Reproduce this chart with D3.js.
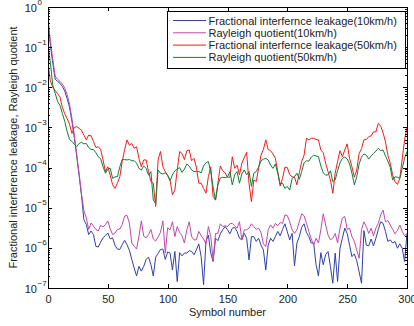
<!DOCTYPE html>
<html>
<head>
<meta charset="utf-8">
<title>Interference leakage vs symbol</title>
<script src="https://d3js.org/d3.v7.min.js"></script>
<style>
    body { margin: 0; background: #fff; }
    svg { display: block; font-family: "Liberation Sans", Arial, sans-serif; }
    .axis path, .axis line { stroke: #000; shape-rendering: crispEdges; }
    .axis text { font-size: 11px; fill: #222; }
    .series { fill: none; stroke-width: 1px; stroke-linejoin: round; }
</style>
</head>
<body>
<svg id="chart"></svg>
<script>
// x axis: symbol index, sampled every 2 symbols
var symbolStep = 2;
var xTicks = [0, 50, 100, 150, 200, 250, 300];
var yDecades = [-7, -6, -5, -4, -3, -2, -1, 0];

// values are log10 of the plotted quantity, one per sampled symbol (0,2,...,300)
var leak10 = [
    -0.35, -0.95, -1.4, -1.8, -1.85, -1.9, -1.98, -2.1, -2.28, -2.5,
    -2.85, -3.25, -3.72, -4.2, -4.7, -5.3, -5.42, -5.67, -5.58, -5.67,
    -5.96, -5.98, -5.86, -5.75, -5.69, -5.63, -5.78, -5.75, -5.94, -6.03,
    -6.04, -5.92, -5.81, -5.92, -6.06, -6.29, -6.5, -6.7, -6.46, -6.58,
    -6.46, -6.29, -6.23, -6.42, -6.7, -6.23, -6.14, -6.04, -6.03, -6.29,
    -6.1, -6.13, -6.55, -6.09, -6.84, -6.12, -6.2, -6.13, -6.13, -6.07,
    -6.09, -6.17, -6.05, -5.9, -6.22, -6.92, -5.84, -5.68, -6.13, -6.34,
    -5.76, -5.82, -5.65, -5.55, -5.47, -5.55, -5.65, -5.51, -5.49, -5.59,
    -5.76, -5.8, -5.64, -5.76, -6.3, -5.72, -5.72, -5.84, -5.76, -5.93,
    -6.05, -6.55, -5.93, -5.76, -5.84, -5.72, -5.59, -5.7, -5.54, -5.4,
    -5.6, -5.8, -5.64, -6.45, -5.88, -5.72, -5.49, -5.4, -5.62, -5.72,
    -5.88, -5.88, -6.42, -6.7, -6.12, -6.42, -6.17, -6.09, -6.46, -6.88,
    -6.13, -6.84, -6.01, -5.76, -5.51, -5.64, -5.93, -6.22, -6.15, -6.32,
    -6.6, -6.88, -5.57, -5.93, -5.95, -5.78, -5.95, -5.76, -5.55, -5.35,
    -5.39, -5.59, -5.84, -5.8, -5.88, -5.84, -6.01, -5.9, -6.01, -6.34,
    -5.64
];
var rayleigh10 = [
    -0.27, -0.85, -1.3, -1.72, -1.8, -1.85, -1.92, -2.02, -2.18, -2.42,
    -2.78, -3.2, -3.68, -4.15, -4.65, -5.08, -5.25, -5.54, -5.38, -5.46,
    -5.54, -5.58, -5.44, -5.48, -5.42, -5.33, -5.53, -5.67, -5.63, -5.54,
    -5.53, -5.42, -5.21, -5.19, -5.38, -5.88, -5.96, -6.03, -5.71, -5.33,
    -5.71, -5.75, -5.67, -5.54, -5.78, -5.83, -5.73, -5.61, -5.33, -6.13,
    -5.5, -5.55, -5.35, -5.72, -5.47, -5.62, -5.7, -5.88, -5.55, -5.35,
    -5.72, -5.8, -5.8, -5.59, -5.7, -5.78, -5.9, -5.47, -5.72, -6.3,
    -5.64, -5.64, -5.4, -5.47, -5.45, -5.47, -5.4, -5.39, -5.45, -5.51,
    -5.35, -5.8, -5.55, -5.55, -5.51, -5.4, -5.47, -5.54, -5.51, -5.62,
    -5.9, -5.97, -5.55, -5.43, -5.51, -5.39, -5.45, -5.37, -5.39, -5.18,
    -5.2, -5.35, -5.55, -5.64, -5.55, -5.35, -5.15, -5.2, -5.39, -5.59,
    -5.78, -5.93, -5.76, -5.88, -5.55, -5.15, -5.43, -5.68, -5.8, -5.76,
    -5.64, -5.88, -5.51, -5.26, -5.22, -5.54, -5.51, -5.72, -5.84, -6.05,
    -6.26, -5.55, -5.35, -5.47, -5.64, -5.51, -5.7, -5.51, -5.39, -5.18,
    -5.06, -5.35, -5.32, -5.43, -5.54, -5.65, -5.57, -5.43, -5.59, -5.7,
    -5.64
];
var leak50 = [
    -1.4, -1.85, -2.0, -2.08, -2.16, -2.24, -2.5, -2.66, -2.78, -2.92,
    -3.15, -3.0, -2.98, -3.02, -3.08, -3.19, -3.31, -3.19, -3.21, -3.35,
    -3.5, -3.48, -3.55, -3.81, -4.1, -3.98, -4.19, -4.43, -4.52, -4.39,
    -4.23, -3.85, -3.56, -3.31, -3.44, -3.4, -3.52, -3.48, -3.77, -3.98,
    -3.81, -3.81, -4.1, -4.35, -4.39, -4.97, -3.81, -3.6, -3.98, -4.1,
    -4.2, -4.31, -4.68, -4.56, -4.06, -3.6, -3.65, -3.8, -3.58, -3.56,
    -3.83, -3.77, -3.99, -4.39, -4.39, -4.52, -4.64, -4.23, -3.98, -4.72,
    -4.81, -4.39, -3.96, -4.08, -4.13, -4.24, -4.24, -3.73, -4.02, -3.94,
    -4.18, -3.89, -3.75, -3.62, -4.4, -4.85, -4.31, -4.35, -4.02, -3.69,
    -3.55, -3.31, -3.55, -3.58, -3.66, -3.77, -4.1, -4.46, -4.27, -3.99,
    -4.0, -4.18, -4.23, -4.24, -4.43, -4.13, -3.85, -3.69, -3.27, -3.31,
    -3.27, -3.27, -3.3, -3.31, -3.56, -3.63, -3.89, -4.1, -4.31, -4.64,
    -4.14, -3.85, -3.58, -3.73, -3.56, -3.41, -3.77, -3.98, -4.24, -4.06,
    -3.65, -3.53, -3.31, -3.3, -3.23, -3.21, -3.11, -3.11, -2.9, -2.97,
    -3.13, -3.36, -3.69, -3.89, -4.18, -4.35, -4.42, -4.27, -3.79, -3.31,
    -3.0
];
var rayleigh50 = [
    -0.95, -1.4, -1.95, -2.15, -2.35, -2.45, -2.65, -2.85, -3.1, -3.3,
    -3.35, -3.42, -3.48, -3.4, -3.37, -3.41, -3.4, -3.5, -3.55, -3.55,
    -3.63, -3.73, -3.78, -3.98, -4.14, -4.04, -4.02, -4.27, -4.23, -4.23,
    -3.98, -3.8, -3.8, -3.81, -3.8, -3.83, -3.83, -3.89, -4.02, -4.06,
    -3.96, -4.02, -4.19, -4.1, -4.81, -4.89, -4.06, -4.14, -4.16, -4.13,
    -4.19, -4.33, -4.18, -4.08, -4.04, -4.0, -4.12, -4.04, -3.91, -3.96,
    -4.06, -4.1, -4.1, -4.1, -4.13, -3.96, -3.88, -3.85, -4.1, -4.49,
    -4.81, -4.43, -4.26, -4.24, -4.25, -4.23, -4.1, -4.43, -4.18, -4.1,
    -4.39, -4.16, -4.06, -4.18, -4.1, -4.47, -4.14, -4.1, -3.99, -3.83,
    -3.79, -3.77, -3.81, -3.94, -4.02, -3.91, -4.14, -4.41, -4.39, -4.52,
    -4.47, -4.56, -4.27, -4.23, -4.14, -4.29, -4.1, -3.88, -3.83, -3.84,
    -3.74, -3.69, -3.71, -3.73, -3.96, -4.13, -4.19, -4.18, -4.08, -4.35,
    -4.31, -4.08, -3.88, -3.77, -3.74, -3.78, -3.91, -4.14, -4.43, -4.23,
    -3.91, -3.74, -3.66, -3.69, -3.79, -3.71, -3.65, -3.59, -3.52, -3.58,
    -3.56, -3.71, -3.84, -3.99, -4.31, -4.23, -4.24, -4.27, -4.02, -3.77,
    -3.6
];

var seriesNames = [
    "Fractional interfernce leakage(10km/h)",
    "Rayleigh quotient(10km/h)",
    "Fractional interfernce leakage(50km/h)",
    "Rayleigh quotient(50km/h)"
];
var seriesColors = ["#2f40a6", "#c04aa8", "#f21c1c", "#0e7f3a"];
var seriesData = [leak10, rayleigh10, leak50, rayleigh50];

var W = 414, H = 326;
var margin = { top: 7, right: 7, bottom: 38, left: 48 };
var width = W - margin.left - margin.right,
    height = H - margin.top - margin.bottom;

var svg = d3.select("#chart").attr("width", W).attr("height", H);
var g = svg.append("g")
    .attr("transform", "translate(" + margin.left + "," + margin.top + ")");

var x = d3.scaleLinear().domain([0, 300]).range([0, width]);
var y = d3.scaleLog().domain([1e-7, 1]).range([height, 0]);

// minor ticks of the log axis
var minorVals = [];
yDecades.slice(0, -1).forEach(function(e) {
    for (var k = 2; k <= 9; k++) minorVals.push(k * Math.pow(10, e));
});

// clip lines to the plot box
g.append("clipPath").attr("id", "clip")
    .append("rect").attr("width", width).attr("height", height);

var line = d3.line()
    .x(function(d, i) { return x(i * symbolStep); })
    .y(function(d) { return y(Math.pow(10, d)); });

seriesData.forEach(function(s, i) {
    g.append("path")
        .datum(s)
        .attr("class", "series")
        .attr("clip-path", "url(#clip)")
        .attr("stroke", seriesColors[i])
        .attr("d", line);
});

// bottom axis
g.append("g").attr("class", "axis")
    .attr("transform", "translate(0," + height + ")")
    .call(d3.axisBottom(x).tickValues(xTicks).tickSizeInner(-4).tickSizeOuter(0).tickPadding(7));
// top axis (ticks only)
g.append("g").attr("class", "axis")
    .call(d3.axisTop(x).tickValues(xTicks).tickSizeInner(-4).tickSizeOuter(0).tickFormat(""));

// left axis, major and minor
var decVals = yDecades.map(function(e) { return Math.pow(10, e); });
g.append("g").attr("class", "axis")
    .call(d3.axisLeft(y).tickValues(decVals).tickSizeInner(-4).tickSizeOuter(0).tickFormat(""));
g.append("g").attr("class", "axis minor")
    .call(d3.axisLeft(y).tickValues(minorVals).tickSizeInner(-2).tickSizeOuter(0).tickFormat(""))
    .select(".domain").remove();
// right axis, major and minor
g.append("g").attr("class", "axis")
    .attr("transform", "translate(" + width + ",0)")
    .call(d3.axisRight(y).tickValues(decVals).tickSizeInner(-4).tickSizeOuter(0).tickFormat(""));
g.append("g").attr("class", "axis minor")
    .attr("transform", "translate(" + width + ",0)")
    .call(d3.axisRight(y).tickValues(minorVals).tickSizeInner(-2).tickSizeOuter(0).tickFormat(""))
    .select(".domain").remove();

// power-of-ten labels
var ylab = g.append("g").attr("class", "axis");
yDecades.forEach(function(e) {
    var yy = y(Math.pow(10, e));
    ylab.append("text")
        .attr("x", -11).attr("y", yy + 4.5)
        .attr("text-anchor", "end")
        .text("10");
    ylab.append("text")
        .attr("x", -10.5).attr("y", yy - 2.5)
        .style("font-size", "8px")
        .text(e === 0 ? "0" : "\u2212" + (-e));
});

// axis titles
svg.append("text")
    .attr("x", margin.left + width / 2).attr("y", 316)
    .attr("text-anchor", "middle")
    .style("font-size", "11px").style("fill", "#222")
    .text("Symbol number");
svg.append("text")
    .attr("transform", "translate(17," + (margin.top + height / 2) + ") rotate(-90)")
    .attr("text-anchor", "middle")
    .style("font-size", "11px").style("fill", "#222")
    .text("Fractional interference leakage, Rayleigh quotient");

// legend
var lg = svg.append("g");
lg.append("rect")
    .attr("x", 167.5).attr("y", 11.5)
    .attr("width", 238).attr("height", 57)
    .attr("fill", "#fff").attr("stroke", "#000");
seriesNames.forEach(function(name, i) {
    var ly = 20.5 + i * 12.3;
    lg.append("line")
        .attr("x1", 173).attr("x2", 206)
        .attr("y1", ly).attr("y2", ly)
        .attr("stroke", seriesColors[i]).attr("stroke-width", 1);
    lg.append("text")
        .attr("x", 208.5).attr("y", ly + 4)
        .style("font-size", "11px").style("fill", "#222")
        .text(name);
});
</script>
</body>
</html>
